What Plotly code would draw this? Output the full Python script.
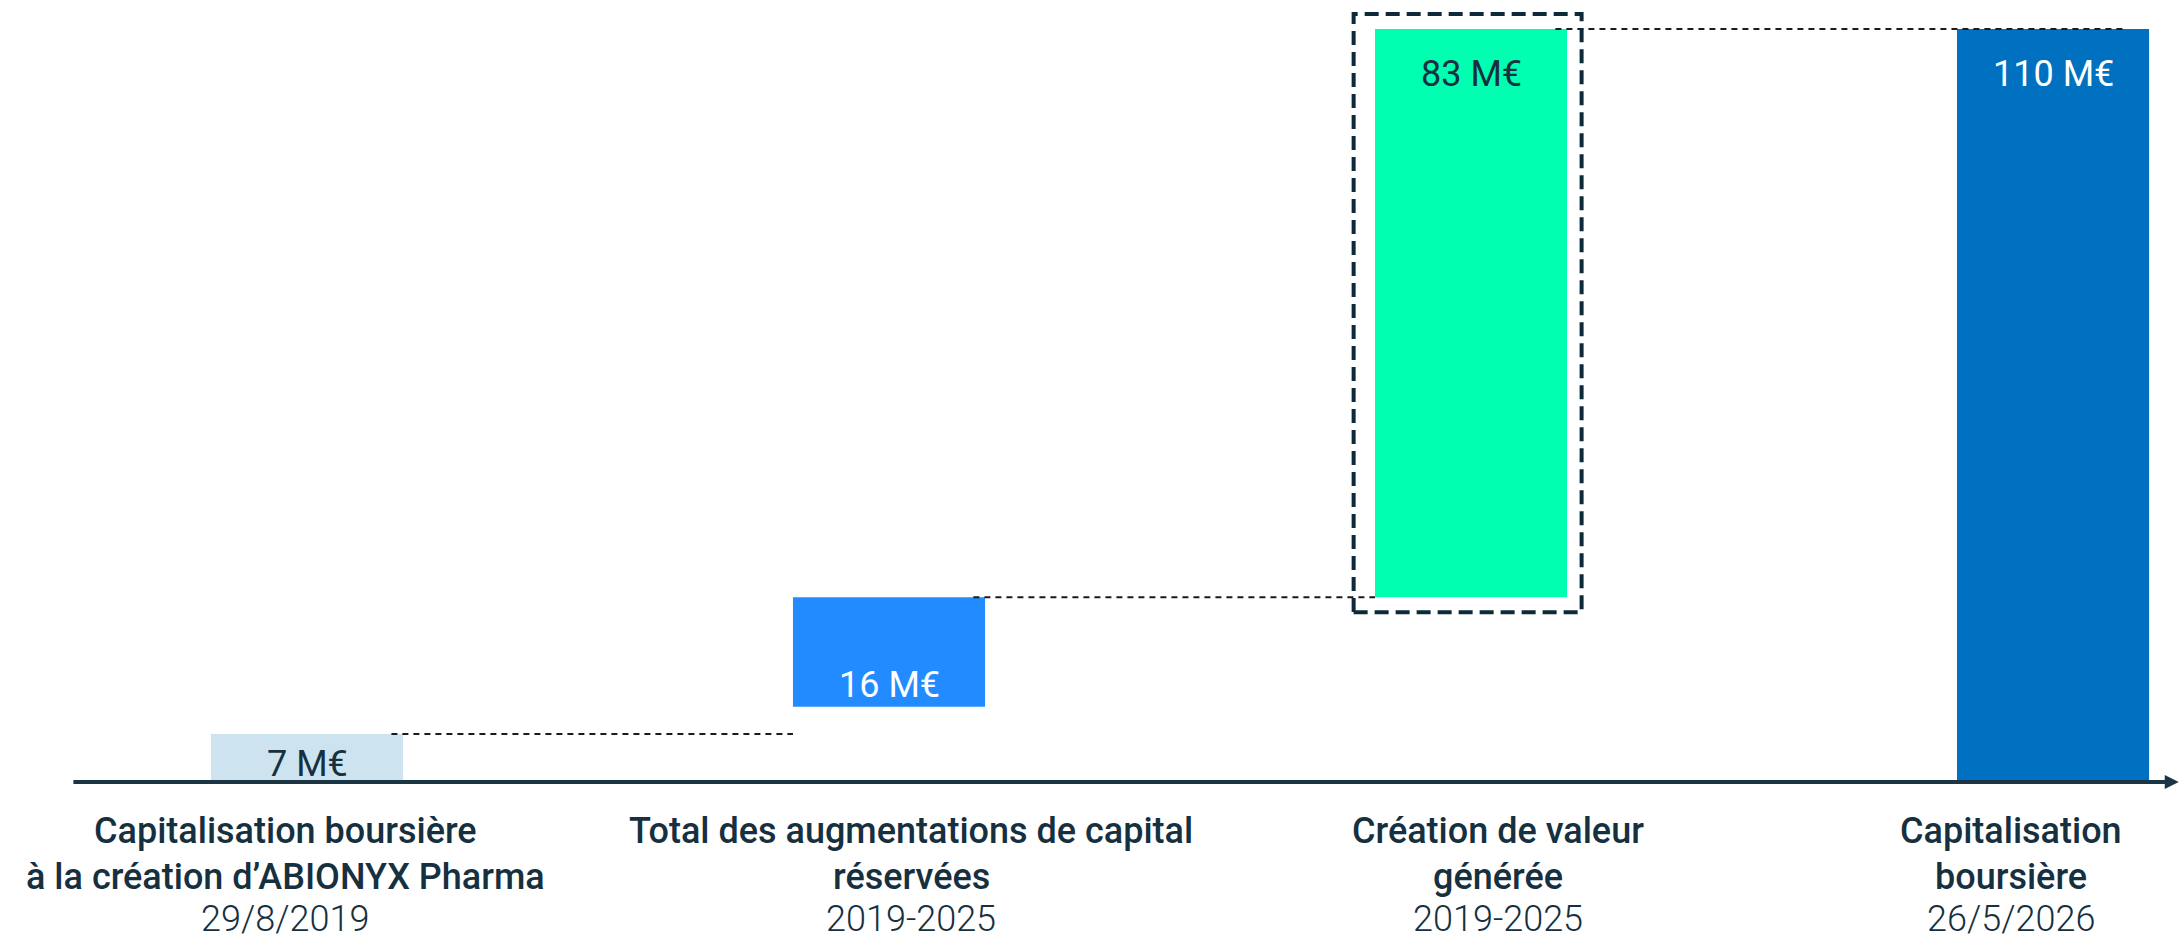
import plotly.graph_objects as go

# --- data -------------------------------------------------------------
title_line1 = ["Capitalisation boursière", "Total des augmentations de capital",
               "Création de valeur", "Capitalisation"]
title_line2 = ["à la création d’ABIONYX Pharma", "réservées", "générée", "boursière"]
periods = ["29/8/2019", "2019-2025", "2019-2025", "26/5/2026"]
values = [7, 16, 83, 110]          # M€
unit = "M€"

# --- waterfall geometry (bases derived from the values) ---------------
total = values[3]
bases = [0, total - values[2] - values[1], total - values[2], 0]
tops = [b + v for b, v in zip(bases, values)]
xs = [0, 1, 2, 3]

bar_colors = ["#cde3ef", "#228bff", "#00ffb0", "#0070c0"]
label_colors = ["#16303f", "#ffffff", "#16303f", "#ffffff"]
ink = "#16303f"
bar_w = 0.33
font_family = "Roboto, 'Noto Sans', sans-serif"
fs = 36

fig = go.Figure(go.Bar(
    x=xs, y=values, base=bases, width=bar_w,
    marker=dict(color=bar_colors, line=dict(width=0)),
    hoverinfo="skip",
))

# px per data unit, used for pixel-based paddings
y_top = 114.25
plot_h = 782
ppu = plot_h / y_top

shapes = []
# dashed connectors between consecutive steps
connectors = [
    (0 + bar_w / 2 - 0.02, 1 - bar_w / 2, tops[0]),
    (1 + bar_w / 2 - 0.02, 2 - bar_w / 2, tops[1]),
    (2 + bar_w / 2 - 0.02, 3 + 0.12, tops[2]),
]
for x0, x1, yv in connectors:
    shapes.append(dict(type="line", xref="x", yref="y", x0=x0, x1=x1, y0=yv, y1=yv,
                       line=dict(color="#1b1b1b", width=2, dash="6px,5px"), layer="above"))

# dashed frame around the value-creation bar
pad = 15 / ppu
shapes.append(dict(type="rect", xref="x", yref="y",
                   x0=2 - 0.2017, x1=2 + 0.19,
                   y0=bases[2] - pad, y1=tops[2] + pad,
                   line=dict(color="#0d2a3a", width=4, dash="14px,7px"),
                   fillcolor="rgba(0,0,0,0)", layer="above"))

annotations = []
# baseline with arrow
annotations.append(dict(x=3.216, y=0, ax=-0.404, ay=0, xref="x", yref="y",
                        axref="x", ayref="y", text="", showarrow=True,
                        arrowhead=2, arrowsize=0.7, arrowwidth=4, arrowcolor="#1b3545"))

# value labels
label_shift = [18, 22, None, None]
for i in range(4):
    txt = f"{values[i]} {unit}"
    if label_shift[i] is not None:
        annotations.append(dict(x=xs[i], y=bases[i], xref="x", yref="y", text=txt,
                                showarrow=False, yanchor="middle", yshift=label_shift[i],
                                font=dict(family=font_family, size=fs, color=label_colors[i])))
    else:
        annotations.append(dict(x=xs[i], y=tops[i], xref="x", yref="y", text=txt,
                                showarrow=False, yanchor="middle", yshift=-45,
                                font=dict(family=font_family, size=fs, color=label_colors[i])))

# category labels under the axis
cat_xshift = [-22, 22, 27, -42]
for i in range(4):
    for txt, ys, w in ((title_line1[i], -49, 500), (title_line2[i], -95, 500), (periods[i], -137, 300)):
        annotations.append(dict(x=xs[i], y=0, xref="x", yref="y", text=txt, showarrow=False,
                                yanchor="middle", xanchor="center", yshift=ys, xshift=cat_xshift[i],
                                font=dict(family=font_family, size=fs, color=ink, weight=w)))

fig.update_layout(
    width=2182, height=934,
    margin=dict(l=0, r=0, t=0, b=934 - plot_h),
    paper_bgcolor="white", plot_bgcolor="white",
    showlegend=False,
    xaxis=dict(range=[-0.5275, 3.2216], visible=False, fixedrange=True),
    yaxis=dict(range=[0, y_top], visible=False, fixedrange=True),
    shapes=shapes, annotations=annotations,
)

fig.write_html("out.html")
